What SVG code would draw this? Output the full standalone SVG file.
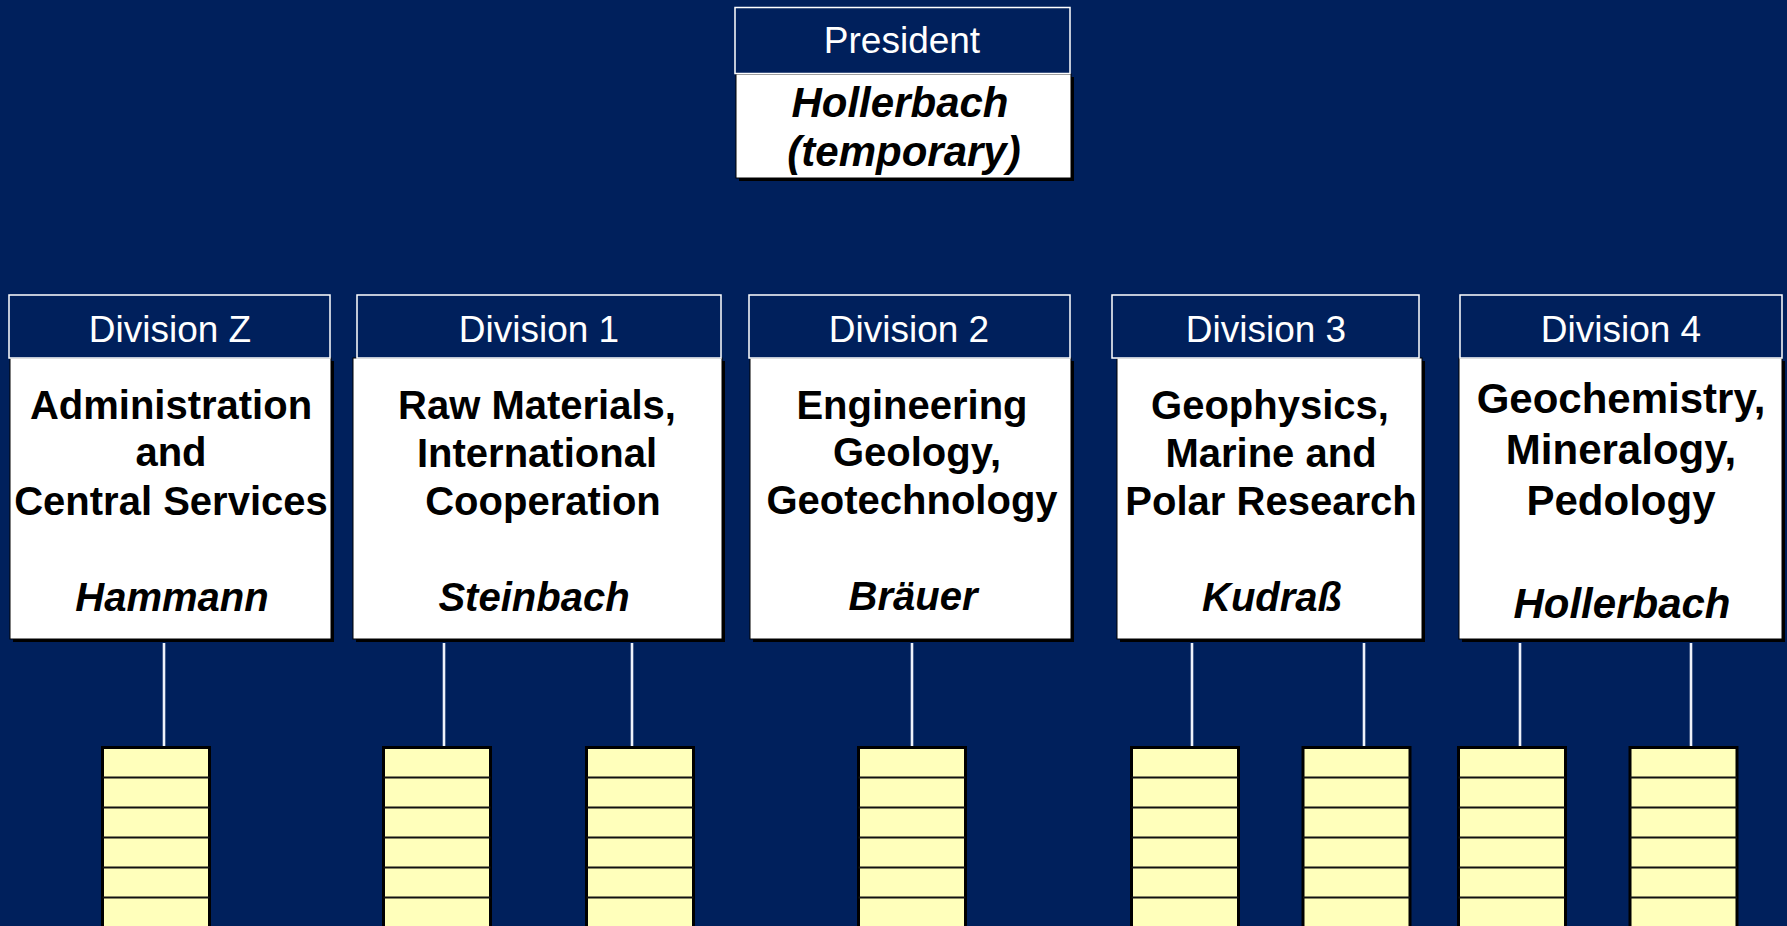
<svg xmlns="http://www.w3.org/2000/svg" width="1787" height="926" viewBox="0 0 1787 926">
<defs>
<style>
.bg{fill:#00205C}
.hdr{fill:#00205C;stroke:#FFFFFF;stroke-width:1.5}
.shadow{fill:#000000}
.box{fill:#FFFFFF;stroke:#000000;stroke-width:1}
.htxt{font-family:"Liberation Sans",Arial,sans-serif;font-size:37px;fill:#FFFFFF;text-anchor:middle}
.ttl{font-family:"Liberation Sans",Arial,sans-serif;font-size:40px;font-weight:bold;fill:#000000;text-anchor:middle}
.ttl4{font-family:"Liberation Sans",Arial,sans-serif;font-size:42px;font-weight:bold;fill:#000000;text-anchor:middle}
.nm{font-family:"Liberation Sans",Arial,sans-serif;font-size:40px;font-weight:bold;font-style:italic;fill:#000000;text-anchor:middle}
.nm4{font-family:"Liberation Sans",Arial,sans-serif;font-size:42px;font-weight:bold;font-style:italic;fill:#000000;text-anchor:middle}
.conn{stroke:#EEF2FA;stroke-width:2.6;fill:none}
.stk{fill:#FFFFBB;stroke:#000000;stroke-width:3}
.row{stroke:#111111;stroke-width:2}
</style>
<g id="stack">
<rect class="stk" x="0" y="0" width="107" height="200"/>
<line class="row" x1="0" y1="30" x2="107" y2="30"/>
<line class="row" x1="0" y1="60" x2="107" y2="60"/>
<line class="row" x1="0" y1="90" x2="107" y2="90"/>
<line class="row" x1="0" y1="120" x2="107" y2="120"/>
<line class="row" x1="0" y1="150" x2="107" y2="150"/>
</g>
</defs>
<rect class="bg" x="0" y="0" width="1787" height="926"/>

<g id="president">
<rect class="shadow" x="739" y="77" width="335" height="104"/>
<rect class="box" x="736" y="74" width="335" height="104"/>
<rect class="hdr" x="735" y="7.5" width="335" height="66"/>
<text class="htxt" x="902" y="53">President</text>
<text class="nm4" x="900" y="117">Hollerbach</text>
<text class="nm4" x="904" y="166">(temporary)</text>
</g>

<g id="divZ">
<rect class="shadow" x="13" y="361" width="321" height="281"/>
<rect class="box" x="10" y="358" width="321" height="281"/>
<rect class="hdr" x="9" y="295" width="321" height="63"/>
<text class="htxt" x="170" y="342">Division Z</text>
<text class="ttl" x="171" y="419">Administration</text>
<text class="ttl" x="171" y="466">and</text>
<text class="ttl" x="171" y="515">Central Services</text>
<text class="nm" x="172" y="611">Hammann</text>
</g>

<g id="div1">
<rect class="shadow" x="356" y="361" width="369" height="281"/>
<rect class="box" x="353" y="358" width="369" height="281"/>
<rect class="hdr" x="357" y="295" width="364" height="63"/>
<text class="htxt" x="539" y="342">Division 1</text>
<text class="ttl" x="537" y="419">Raw Materials,</text>
<text class="ttl" x="537" y="467">International</text>
<text class="ttl" x="543" y="515">Cooperation</text>
<text class="nm" x="534" y="611">Steinbach</text>
</g>

<g id="div2">
<rect class="shadow" x="753" y="361" width="321" height="281"/>
<rect class="box" x="750" y="358" width="321" height="281"/>
<rect class="hdr" x="749" y="295" width="321" height="63"/>
<text class="htxt" x="909" y="342">Division 2</text>
<text class="ttl" x="912" y="419">Engineering</text>
<text class="ttl" x="917" y="466">Geology,</text>
<text class="ttl" x="912" y="514">Geotechnology</text>
<text class="nm" x="913" y="610">Bräuer</text>
</g>

<g id="div3">
<rect class="shadow" x="1120" y="361" width="305" height="281"/>
<rect class="box" x="1117" y="358" width="305" height="281"/>
<rect class="hdr" x="1112" y="295" width="307" height="63"/>
<text class="htxt" x="1266" y="342">Division 3</text>
<text class="ttl" x="1270" y="419">Geophysics,</text>
<text class="ttl" x="1271" y="467">Marine and</text>
<text class="ttl" x="1271" y="515">Polar Research</text>
<text class="nm" x="1272" y="611">Kudraß</text>
</g>

<g id="div4">
<rect class="shadow" x="1462" y="361" width="323" height="281"/>
<rect class="box" x="1459" y="358" width="323" height="281"/>
<rect class="hdr" x="1460" y="295" width="322" height="63"/>
<text class="htxt" x="1621" y="342">Division 4</text>
<text class="ttl4" x="1621" y="413">Geochemistry,</text>
<text class="ttl4" x="1621" y="464">Mineralogy,</text>
<text class="ttl4" x="1621" y="515">Pedology</text>
<text class="nm4" x="1622" y="618">Hollerbach</text>
</g>

<g id="connectors">
<line class="conn" x1="164" y1="643" x2="164" y2="746"/>
<line class="conn" x1="444" y1="643" x2="444" y2="746"/>
<line class="conn" x1="632" y1="643" x2="632" y2="746"/>
<line class="conn" x1="912" y1="643" x2="912" y2="746"/>
<line class="conn" x1="1192" y1="643" x2="1192" y2="746"/>
<line class="conn" x1="1364" y1="643" x2="1364" y2="746"/>
<line class="conn" x1="1520" y1="643" x2="1520" y2="746"/>
<line class="conn" x1="1691" y1="643" x2="1691" y2="746"/>
</g>

<g id="unit-stacks">
<use href="#stack" x="102.5" y="747.5"/>
<use href="#stack" x="383.5" y="747.5"/>
<use href="#stack" x="586.5" y="747.5"/>
<use href="#stack" x="858.5" y="747.5"/>
<use href="#stack" x="1131.5" y="747.5"/>
<use href="#stack" x="1303" y="747.5"/>
<use href="#stack" x="1458.5" y="747.5"/>
<use href="#stack" x="1630" y="747.5"/>
</g>
</svg>
